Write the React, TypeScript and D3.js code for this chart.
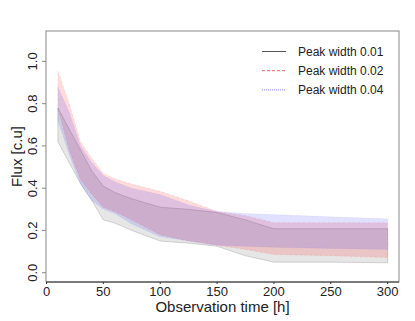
import React from "react";
import * as d3 from "d3";

const times = [10, 20, 30, 40, 50, 60, 75, 100, 125, 150, 175, 200, 250, 300];

const greyLower = [0.62, 0.52, 0.42, 0.34, 0.25, 0.235, 0.2, 0.15, 0.14, 0.125, 0.08, 0.05, 0.05, 0.047];
const greyUpper = [0.78, 0.68, 0.58, 0.48, 0.41, 0.38, 0.35, 0.31, 0.3, 0.285, 0.25, 0.208, 0.208, 0.208];

const redLower = [0.78, 0.58, 0.44, 0.37, 0.31, 0.29, 0.25, 0.18, 0.15, 0.13, 0.11, 0.086, 0.08, 0.072];
const redUpper = [0.955, 0.8, 0.62, 0.54, 0.47, 0.445, 0.42, 0.385, 0.34, 0.29, 0.27, 0.237, 0.237, 0.236];

const blueLower = [0.72, 0.56, 0.42, 0.34, 0.3, 0.28, 0.23, 0.17, 0.15, 0.13, 0.125, 0.12, 0.115, 0.11];
const blueUpper = [0.88, 0.76, 0.6, 0.52, 0.46, 0.43, 0.4, 0.37, 0.32, 0.29, 0.28, 0.275, 0.265, 0.255];

const xTicks = [0, 50, 100, 150, 200, 250, 300];
const yTicks = [0, 0.2, 0.4, 0.6, 0.8, 1.0];
const legendLabels = ["Peak width 0.01", "Peak width 0.02", "Peak width 0.04"];

const W = 415;
const H = 321;
const left = 46;
const right = 399;
const top = 31;
const bottom = 282;

export default function App() {
  const x = d3.scaleLinear().domain([0, 310]).range([left + 0.5, right]);
  const y = d3.scaleLinear().domain([-0.044, 1.144]).range([bottom, top]);

  const area = (lo: number[], hi: number[]) =>
    d3
      .area<number>()
      .x((_, i) => x(times[i]))
      .y0((_, i) => y(lo[i]))
      .y1((_, i) => y(hi[i]))(times.map((_, i) => i)) || "";

  const bands = [
    { lo: greyLower, hi: greyUpper, fill: "rgba(128,128,128,0.2)", stroke: "rgba(70,70,70,0.35)", dash: "" },
    { lo: redLower, hi: redUpper, fill: "rgba(255,0,0,0.14)", stroke: "rgba(255,0,0,0.15)", dash: "3,2" },
    { lo: blueLower, hi: blueUpper, fill: "rgba(0,0,255,0.12)", stroke: "rgba(0,0,255,0.12)", dash: "1,1" },
  ];

  const legendStyles = [
    { stroke: "#555", dash: "" },
    { stroke: "#f06060", dash: "3,2" },
    { stroke: "#8888ee", dash: "1,1" },
  ];

  const font = "'Liberation Sans', Arial, Helvetica, sans-serif";

  return (
    <svg width={W} height={H} style={{ position: "absolute", left: 0, top: 0 }} fontFamily={font}>
      <rect x={0} y={0} width={W} height={H} fill="#fff" />
      {bands.map((b, i) => (
        <path key={i} d={area(b.lo, b.hi)} fill={b.fill} stroke={b.stroke} strokeWidth={0.6} strokeDasharray={b.dash} />
      ))}
      <rect x={left} y={top} width={right - left} height={bottom - top} fill="none" stroke="#888" strokeWidth={1} />
      <line x1={left} x2={right} y1={bottom} y2={bottom} stroke="#333" strokeWidth={1} />
      {yTicks.map((t) => (
        <g key={t}>
          <line x1={left - 4} x2={left} y1={y(t)} y2={y(t)} stroke="#888" />
          <text
            transform={`translate(${37},${y(t)}) rotate(-90)`}
            textAnchor="middle"
            fontSize={13}
            fill="#222"
          >
            {t.toFixed(1)}
          </text>
        </g>
      ))}
      {xTicks.map((t) => (
        <g key={t}>
          <line x1={x(t)} x2={x(t)} y1={bottom} y2={bottom + 2} stroke="#333" />
          <text x={x(t)} y={296} textAnchor="middle" fontSize={13} fill="#222">
            {t}
          </text>
        </g>
      ))}
      <text x={(left + right) / 2} y={311.5} textAnchor="middle" fontSize={15} fill="#222">
        Observation time [h]
      </text>
      <text transform={`translate(${22},${(top + bottom) / 2}) rotate(-90)`} textAnchor="middle" fontSize={15} fill="#222">
        Flux [c.u]
      </text>
      {legendLabels.map((l, i) => (
        <g key={l}>
          <line
            x1={262}
            x2={286}
            y1={51.5 + i * 19.2}
            y2={51.5 + i * 19.2}
            stroke={legendStyles[i].stroke}
            strokeDasharray={legendStyles[i].dash}
            strokeWidth={1}
          />
          <text x={298} y={51.5 + i * 19.2 + 4.3} fontSize={12} fill="#222">
            {l}
          </text>
        </g>
      ))}
    </svg>
  );
}
